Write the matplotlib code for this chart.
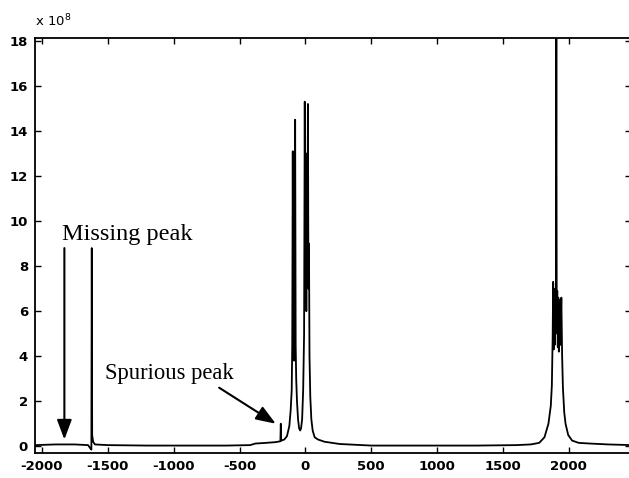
import matplotlib
matplotlib.use("Agg")
import matplotlib.pyplot as plt

# Spectrum vertices (x in Hz-like units, y in units of 1e8)
spec_x = [-2050, -1900, -1750, -1650, -1632, -1625, -1622, -1619, -1612, -1598,
          -1500, -1200, -900, -600, -420, -380, -300, -230, -190, -187, -184,
          -160, -140, -122, -112, -104, -100, -96, -92, -89, -86, -81, -78,
          -74, -70, -64, -56, -48, -40, -33, -25, -17, -10, -5, -1, 3, 7,
          11, 15, 19, 23, 27, 31, 37, 45, 55, 70, 95, 145, 260, 500, 900, 1300,
          1600, 1710, 1775, 1815, 1845, 1863, 1871, 1877, 1881, 1885, 1889,
          1893, 1897, 1901, 1905, 1908, 1912, 1916, 1920, 1924, 1929, 1935,
          1943, 1949, 1955, 1965, 1975, 1995, 2025, 2075, 2160, 2300, 2480]
spec_y = [0.05, 0.08, 0.08, 0.05, -0.1, -0.15, 8.8, 0.5, 0.2, 0.08,
          0.05, 0.03, 0.03, 0.03, 0.05, 0.12, 0.15, 0.18, 0.22, 1.0, 0.25,
          0.3, 0.45, 0.9, 1.6, 2.5, 4.5, 13.1, 4.2, 8.0, 3.8, 4.3, 14.5,
          4.5, 3.0, 2.0, 1.2, 0.8, 0.7, 0.8, 1.2, 2.5, 5.0, 15.3, 7.0, 12.0, 6.0,
          13.0, 8.0, 15.2, 7.0, 9.0, 4.0, 2.2, 1.2, 0.7, 0.4, 0.3, 0.2, 0.1, 0.03, 0.03, 0.03,
          0.05, 0.08, 0.15, 0.4, 1.0, 1.8, 2.7, 4.8, 7.3, 4.3, 6.8,
          4.5, 7.0, 5.0, 18.5, 5.5, 6.9, 4.4, 6.6, 4.2, 6.5, 4.5,
          6.6, 4.0, 2.6, 1.5, 1.0, 0.5, 0.25, 0.15, 0.12, 0.08, 0.05]

x_ticks = [-2000, -1500, -1000, -500, 0, 500, 1000, 1500, 2000]
y_ticks = [0, 2, 4, 6, 8, 10, 12, 14, 16, 18]

missing_label = "Missing peak"
spurious_label = "Spurious peak"

fig = plt.figure(figsize=(6.29, 4.78), dpi=100)
ax = fig.add_axes([35 / 629, 1 - 453 / 478, 1.003 - 35 / 629, (453 - 38) / 478])

ax.plot(spec_x, spec_y, color="black", lw=1.3)

ax.set_xlim(-2053, 2471)
ax.set_ylim(-0.3, 18.13)
ax.set_xticks(x_ticks)
ax.set_yticks(y_ticks)
tick_font = dict(family="DejaVu Sans", weight="bold", size=9.5)
ax.set_xticklabels([str(t) for t in x_ticks], **tick_font)
ax.set_yticklabels([str(t) for t in y_ticks], **tick_font)
ax.tick_params(direction="in", length=4, width=1, top=True, right=True, pad=5)
for s in ax.spines.values():
    s.set_linewidth(1.3)

ax.text(0.0, 1.02, r"x 10$^{8}$", transform=ax.transAxes, ha="left", va="bottom",
        fontsize=9.5, family="DejaVu Sans")

ax.text(-1848, 9.15, missing_label, ha="left", va="baseline",
        family="Liberation Serif", size=17.5)
ax.text(-1520, 3.25, spurious_label, ha="left", va="center",
        family="Liberation Serif", size=16.3)

ax.annotate("", xy=(-1830, 0.3), xytext=(-1830, 8.8),
            arrowprops=dict(arrowstyle="-|>,head_length=1.2,head_width=0.45",
                            color="black", lw=1.5, shrinkA=0, shrinkB=0))
ax.annotate("", xy=(-225, 1.0), xytext=(-655, 2.6),
            arrowprops=dict(arrowstyle="-|>,head_length=1.2,head_width=0.45",
                            color="black", lw=1.5, shrinkA=0, shrinkB=0))

fig.savefig("out.png", dpi=100)
